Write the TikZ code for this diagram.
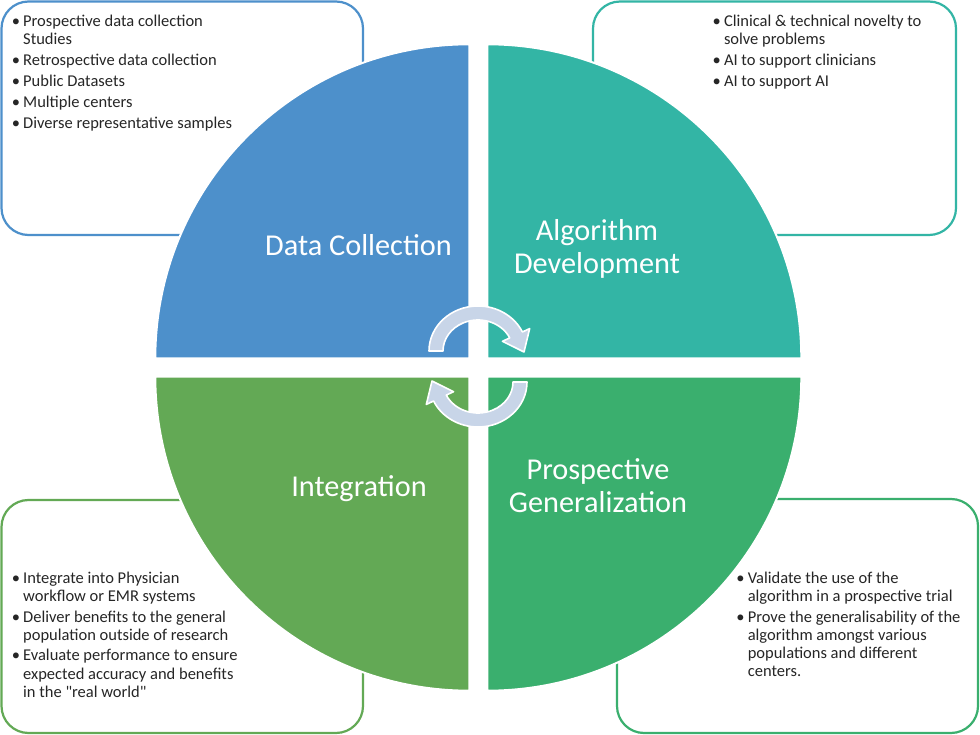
\documentclass[tikz,border=0pt]{standalone}
\usepackage{fontspec}
\setmainfont{Carlito}
\definecolor{qblue}{HTML}{4D90CB}
\definecolor{qteal}{HTML}{33B5A5}
\definecolor{qgreenL}{HTML}{63A955}
\definecolor{qgreenR}{HTML}{3AAF6E}
\definecolor{arrowfill}{HTML}{C8D5E8}
\definecolor{txt}{HTML}{262626}
\newcommand\bul{\makebox[0pt]{\textbullet}\hspace*{7.3pt}}
\newcommand\ind{\hspace*{7.3pt}}
\begin{document}
\begin{tikzpicture}[x=1pt,y=-1pt,
  quad/.style={draw=white, line width=2pt},
  boxframe/.style={rounded corners=27pt, line width=2.2pt},
  biglabel/.style={text=white, font=\fontsize{30.3}{33}\selectfont, inner sep=0, anchor=base},
  listtext/.style={text=txt, font=\fontsize{16.5}{18.2}\selectfont, inner sep=0, anchor=base west},
  cyc/.style={fill=arrowfill, draw=white, line width=1.6pt, line join=round}]
\useasboundingbox (0,0) rectangle (980,735);
\fill[white] (0,0) rectangle (980,735);

% frames
\draw[boxframe, draw=qblue]   (1.5,1.5) rectangle (363,235);
\draw[boxframe, draw=qteal]   (593,1.5) rectangle (956,235);
\draw[boxframe, draw=qgreenL] (1.5,500) rectangle (363,733);
\draw[boxframe, draw=qgreenR] (617,499) rectangle (978,733);

% quadrants
\coordinate (cTL) at (469.3,358.3);
\coordinate (cTR) at (487.3,358.3);
\coordinate (cBR) at (487.3,376.7);
\coordinate (cBL) at (469.3,376.7);
\path[quad, fill=qblue]   (cTL) -- ++(180:314) arc[start angle=180, end angle=270, radius=314] -- cycle;
\path[quad, fill=qteal]   (cTR) -- ++(270:314) arc[start angle=270, end angle=360, radius=314] -- cycle;
\path[quad, fill=qgreenR] (cBR) -- ++(0:314) arc[start angle=0, end angle=90, radius=314] -- cycle;
\path[quad, fill=qgreenL] (cBL) -- ++(90:314) arc[start angle=90, end angle=180, radius=314] -- cycle;

% cycle arrows
\newcommand\cycpath{%
  (180:49 and 45) arc[start angle=180, end angle=335, x radius=49, y radius=45]
  -- (335:57 and 53) -- (46,1) -- (335:27 and 23) -- (335:35 and 31)
  arc[start angle=335, end angle=180, x radius=35, y radius=31] -- cycle}
\begin{scope}[shift={(478,351)}]
  \path[cyc] \cycpath;
\end{scope}
\begin{scope}[shift={(478,382)}, rotate=180]
  \path[cyc] \cycpath;
\end{scope}

% quadrant labels
\node[biglabel] (lblData) at (358.5,256) {Data Collection};
\node[biglabel] (lblAlgo) at (597,241) {\begin{tabular}[t]{@{}c@{}}Algorithm\\Development\end{tabular}};
\node[biglabel] (lblInteg) at (359,496) {Integration};
\node[biglabel] (lblProsp) at (598,479) {\begin{tabular}[t]{@{}c@{}}Prospective\\Generalization\end{tabular}};

% bullet texts
\node[listtext] (tlText) at (15.7,26.7) {\begin{tabular}[t]{@{}l@{}}
\bul Prospective data collection\\
\ind Studies\\[2.6pt]
\bul Retrospective data collection\\[2.6pt]
\bul Public Datasets\\[2.6pt]
\bul Multiple centers\\[2.6pt]
\bul Diverse representative samples
\end{tabular}};
\node[listtext] (trText) at (716.5,26.5) {\begin{tabular}[t]{@{}l@{}}
\bul Clinical \& technical novelty to\\
\ind solve problems\\[2.6pt]
\bul AI to support clinicians\\[2.6pt]
\bul AI to support AI
\end{tabular}};
\node[listtext] (blText) at (15.7,583.3) {\begin{tabular}[t]{@{}l@{}}
\bul Integrate into Physician\\
\ind workflow or EMR systems\\[2.4pt]
\bul Deliver benefits to the general\\
\ind population outside of research\\[2.4pt]
\bul Evaluate performance to ensure\\
\ind expected accuracy and benefits\\
\ind in the \textquotedbl real world\textquotedbl
\end{tabular}};
\node[listtext] (brText) at (740.3,583.3) {\begin{tabular}[t]{@{}l@{}}
\bul Validate the use of the\\
\ind algorithm in a prospective trial\\[2.4pt]
\bul Prove the generalisability of the\\
\ind algorithm amongst various\\
\ind populations and different\\
\ind centers.
\end{tabular}};
\end{tikzpicture}
\end{document}
